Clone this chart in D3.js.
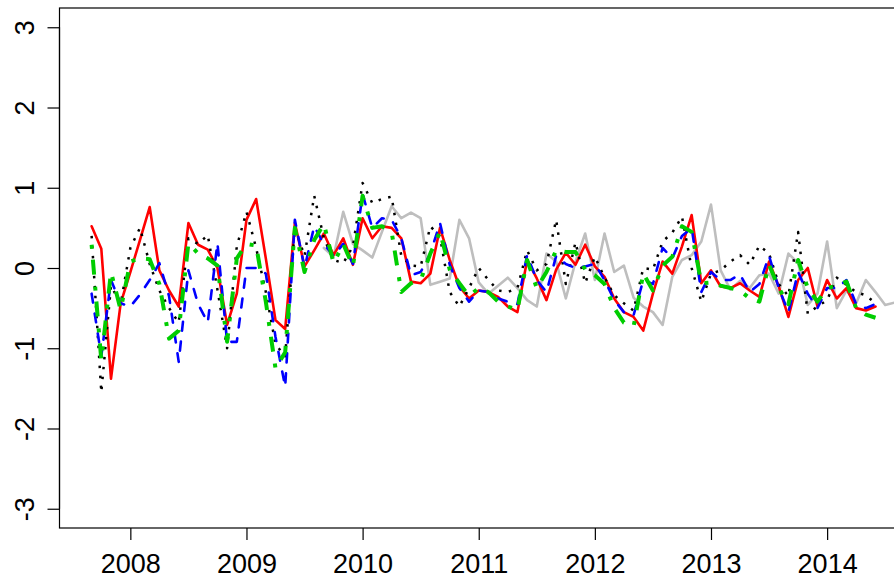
<!DOCTYPE html>
<html>
<head>
<meta charset="utf-8">
<script src="https://cdn.jsdelivr.net/npm/d3@7"></script>
<style>
body { margin: 0; background: #fff; }
svg text { font-family: "Liberation Sans", Arial, Helvetica, sans-serif; }
</style>
</head>
<body>
<svg id="chart" width="894" height="579"></svg>
<script>
// first month of each monthly series, [year, month]
const startMain = [2007, 9];
const startGrey = [2009, 9];

// Sep 2007 .. Jun 2014
const blackVals = [
	0.4, -1.55, -0.22, -0.45,
	0.25, 0.5, 0.05, -0.28, -0.5, -0.68, 0.37, 0.3, 0.41, -0.27, -1.0, 0.27,
	0.7, 0.25, -0.3, -0.95, -1.1, 0.5, 0.15, 0.9, 0.37, 0.1, 0.06, 0.27,
	1.06, 0.81, 0.86, 0.89, 0.15, 0.03, 0.02, 0.52, 0.39, -0.3, -0.48, -0.25,
	0.0, -0.15, -0.28, -0.3, -0.25, 0.22, -0.03, 0.05, 0.6, -0.2, 0.32, -0.19,
	0.14, -0.12, -0.34, -0.44, -0.53, 0.0, -0.02, 0.33, 0.44, 0.64, 0.0, -0.42,
	-0.07, -0.03, 0.08, 0.16, 0.04, 0.28, 0.18, -0.2, -0.35, 0.45, -0.57, -0.48,
	-0.4, -0.12, -0.21, -0.3, -0.34, -0.44];

const redVals = [
	0.52, 0.24, -1.38, -0.44,
	-0.05, 0.35, 0.76, -0.03, -0.28, -0.48, 0.56, 0.29, 0.23, 0.0, -0.71, -0.32,
	0.6, 0.86, 0.12, -0.65, -0.76, 0.56, 0.02, 0.22, 0.43, 0.16, 0.37, 0.04,
	0.62, 0.37, 0.52, 0.5, 0.37, -0.17, -0.19, -0.07, 0.5, 0.1, -0.23, -0.38,
	-0.28, -0.3, -0.36, -0.48, -0.55, 0.1, -0.13, -0.4, -0.02, 0.19, 0.04, 0.29,
	0.02, -0.11, -0.38, -0.55, -0.61, -0.78, -0.32, 0.08, -0.07, 0.27, 0.66, -0.19,
	-0.03, -0.23, -0.25, -0.19, -0.28, -0.36, 0.08, -0.23, -0.61, -0.15, 0.0, -0.48,
	-0.15, -0.38, -0.25, -0.5, -0.53, -0.48];

const blueVals = [
	-0.32, -1.1, -0.15, -0.44,
	-0.48, -0.33, -0.15, 0.06, -0.35, -1.17, -0.03, -0.45, -0.68, 0.31, -0.92, -0.92,
	0.0, 0.0, -0.07, -0.86, -1.48, 0.6, 0.0, 0.52, 0.3, 0.15, 0.3, 0.05,
	0.92, 0.5, 0.62, 0.6, 0.37, -0.09, -0.05, 0.18, 0.56, 0.04, -0.25, -0.42,
	-0.28, -0.3, -0.38, -0.42, -0.45, 0.16, -0.15, -0.3, 0.15, 0.05, 0.0, 0.02,
	0.05, -0.15, -0.4, -0.55, -0.59, -0.15, -0.2, 0.25, 0.12, 0.4, 0.5, -0.3,
	-0.05, -0.15, -0.15, -0.08, -0.3, -0.2, 0.15, -0.25, -0.55, -0.05, -0.32, -0.5,
	-0.25, -0.25, -0.15, -0.45, -0.5, -0.45];

const greenVals = [
	0.29, -1.15, -0.05, -0.52,
	0.08, 0.12, 0.11, -0.2, -0.88, -0.78, 0.31, 0.18, 0.12, 0.03, -0.92, 0.12,
	0.3, 0.28, -0.42, -1.25, -1.05, 0.5, -0.05, 0.35, 0.55, 0.06, 0.3, 0.02,
	0.9, 0.5, 0.52, 0.45, -0.3, -0.19, -0.15, 0.18, 0.45, -0.02, -0.19, -0.35,
	-0.25, -0.3, -0.42, -0.48, -0.52, 0.1, -0.25, -0.05, 0.22, 0.2, 0.2, -0.02,
	-0.09, -0.2, -0.5, -0.68, -0.73, -0.07, -0.28, 0.03, 0.14, 0.52, 0.45, -0.19,
	-0.18, -0.22, -0.25, -0.28, -0.38, -0.42, 0.04, -0.25, -0.45, 0.1, -0.25, -0.42,
	-0.25, -0.22, -0.17, -0.5, -0.58, -0.62];

// Sep 2009 .. Aug 2014
const greyVals = [
	0.25, 0.14, 0.7, 0.3,
	0.22, 0.13, 0.45, 0.77, 0.62, 0.69, 0.62, -0.21, -0.17, -0.13, 0.6, 0.37,
	-0.18, -0.32, -0.22, -0.12, -0.25, -0.4, -0.48, 0.18, 0.08, -0.38, 0.08, 0.43,
	-0.15, 0.43, -0.05, 0.03, -0.37, -0.48, -0.55, -0.71, -0.11, 0.1, 0.16, 0.33,
	0.79, -0.03, -0.27, -0.16, -0.25, -0.09, -0.07, -0.32, 0.18, 0.06, -0.46, -0.32,
	0.33, -0.5, -0.28, -0.44, -0.15, -0.3, -0.46, -0.43];

const xTicks = [2008, 2009, 2010, 2011, 2012, 2013, 2014];
const yTicks = [-3, -2, -1, 0, 1, 2, 3];

//Turns a start month and a value array into {t, v} points
function monthly(start, vals) {
	return vals.map((v, i) => ({ t: start[0] + (start[1] - 1 + i) / 12, v: v }));
}

const series = [
	{ pts: monthly(startGrey, greyVals), color: '#bebebe', width: 2.6, dash: null, cap: 'round' },
	{ pts: monthly(startMain, redVals), color: '#ff0000', width: 2.6, dash: null, cap: 'round' },
	{ pts: monthly(startMain, blackVals), color: '#000000', width: 2.5, dash: '2.5,7.5', cap: 'butt' },
	{ pts: monthly(startMain, blueVals), color: '#0000ff', width: 2.6, dash: '9,11', cap: 'round' },
	{ pts: monthly(startMain, greenVals), color: '#00cd00', width: 4, dash: '4,11,15,12', cap: 'butt' }
];

// plot region (R style: data range padded by 4%)
const box = { left: 59.5, right: 927, top: 8, bottom: 528 };
const tMin = d3.min(series, s => s.pts[0].t);
const tMax = d3.max(series, s => s.pts[s.pts.length - 1].t);
const tPad = 0.04 * (tMax - tMin);

const x = d3.scaleLinear().domain([tMin - tPad, tMax + tPad]).range([box.left, box.right]);
const y = d3.scaleLinear().domain([-3.24, 3.24]).range([box.bottom, box.top]);

let svg = d3.select('#chart');
svg.append('rect').attr('width', 894).attr('height', 579).attr('fill', '#fff');

svg.append('clipPath').attr('id', 'plotClip')
	.append('rect')
	.attr('x', box.left).attr('y', box.top)
	.attr('width', box.right - box.left).attr('height', box.bottom - box.top);

const line = d3.line().x(d => x(d.t)).y(d => y(d.v));

let lines = svg.append('g').attr('clip-path', 'url(#plotClip)');
series.forEach(s => {
	lines.append('path')
		.attr('d', line(s.pts))
		.attr('fill', 'none')
		.attr('stroke', s.color)
		.attr('stroke-width', s.width)
		.attr('stroke-linejoin', 'round')
		.attr('stroke-linecap', s.cap)
		.attr('stroke-dasharray', s.dash);
});

//Box around the plot
svg.append('rect')
	.attr('x', box.left).attr('y', box.top)
	.attr('width', box.right - box.left).attr('height', box.bottom - box.top)
	.attr('fill', 'none').attr('stroke', '#000').attr('stroke-width', 1.2);

//Bottom axis
let xAxis = svg.append('g')
	.attr('transform', 'translate(0,' + box.bottom + ')')
	.call(d3.axisBottom(x).tickValues(xTicks).tickFormat(d3.format('d'))
		.tickSize(12).tickSizeOuter(0).tickPadding(14));
xAxis.select('.domain').remove();
xAxis.selectAll('line').attr('stroke', '#000').attr('stroke-width', 1.2);
xAxis.selectAll('text').attr('font-size', 27).attr('fill', '#000')
	.style('font-family', '"Liberation Sans", Arial, sans-serif');

//Left axis, labels parallel to the axis like R
let yAxis = svg.append('g')
	.attr('transform', 'translate(' + box.left + ',0)')
	.call(d3.axisLeft(y).tickValues(yTicks).tickFormat(d => String(d))
		.tickSize(12).tickSizeOuter(0));
yAxis.select('.domain')
	.attr('d', 'M0,' + y(yTicks[0]) + 'V' + y(yTicks[yTicks.length - 1]))
	.attr('stroke', '#000').attr('stroke-width', 1.2);
yAxis.selectAll('line').attr('stroke', '#000').attr('stroke-width', 1.2);
yAxis.selectAll('text')
	.attr('transform', 'rotate(-90)')
	.attr('text-anchor', 'middle')
	.attr('x', 0).attr('y', -26).attr('dy', 0)
	.attr('font-size', 27).attr('fill', '#000')
	.style('font-family', '"Liberation Sans", Arial, sans-serif');
</script>
</body>
</html>
